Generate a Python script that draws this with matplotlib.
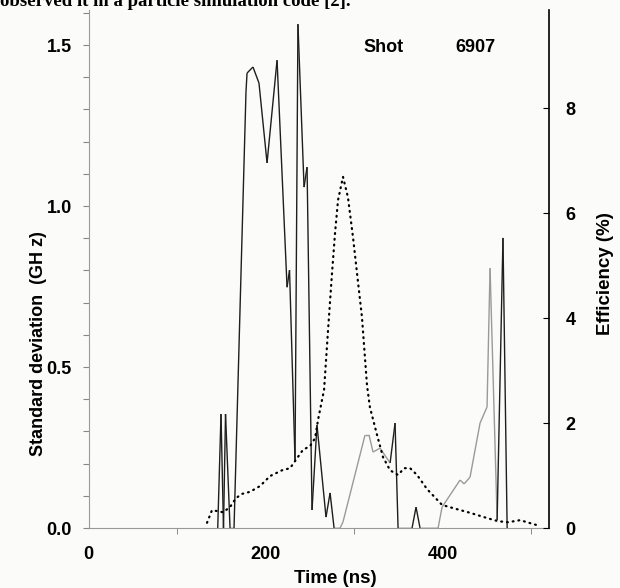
import matplotlib
matplotlib.use("Agg")
import matplotlib.pyplot as plt
from matplotlib.ticker import MultipleLocator
from matplotlib.collections import LineCollection

plt.rcParams['font.family'] = ['Liberation Sans', 'DejaVu Sans']
plt.rcParams['font.weight'] = 'bold'
plt.rcParams['axes.labelweight'] = 'bold'

# ecart type de la frequence (GHz) en fonction du temps (ns)
std_time = [145.8, 149.5, 152.3, 154.6, 159.7, 164.2, 177.7, 178.9, 185.6, 192.4,
            201.5, 212.8, 224.1, 226.9, 233.1, 236.4, 243.3, 246.7, 252.3, 257.9,
            268.1, 272.7, 277.2, 284.0, 287.3, 312.2, 316.7, 321.2, 329.2, 340.5,
            346.1, 349.5, 365.3, 369.8, 374.3, 394.7, 399.2, 419.5, 424.1, 430.8,
            442.1, 450.0, 453.4, 461.4, 468.0, 472.7]
std_ghz = [0, 0.354, 0, 0.354, 0, 0, 1.354, 1.413, 1.432, 1.382,
           1.134, 1.453, 0.748, 0.801, 0.211, 1.565, 1.059, 1.121, 0.056, 0.320,
           0.034, 0.109, 0, 0, 0.019, 0.289, 0.289, 0.236, 0.248, 0.202,
           0.326, 0, 0, 0.065, 0, 0, 0.065, 0.149, 0.137, 0.158,
           0.326, 0.376, 0.807, 0.025, 0.901, 0]

# efficacite (%) en fonction du temps (ns)
eff_time = [133.7, 139.3, 146.1, 151.8, 159.7, 166.4, 173.2, 182.3, 193.6, 204.9,
            218.4, 227.5, 235.4, 242.1, 250.0, 255.7, 259.1, 263.6, 265.9, 270.4,
            274.9, 278.3, 281.7, 287.3, 292.9, 298.6, 303.1, 308.7, 314.4, 317.7,
            325.8, 332.5, 340.5, 349.5, 356.3, 363.1, 371.0, 382.3, 399.2, 411.6,
            430.8, 450.0, 462.5, 473.8, 487.4, 495.3, 505.4]
eff_pct = [0.10, 0.34, 0.32, 0.30, 0.40, 0.57, 0.65, 0.69, 0.80, 0.99,
           1.10, 1.14, 1.33, 1.49, 1.56, 1.71, 2.06, 2.44, 2.63, 3.77,
           4.86, 5.62, 6.25, 6.69, 6.30, 5.54, 4.86, 4.02, 2.72, 2.30,
           1.77, 1.35, 1.10, 1.01, 1.14, 1.14, 1.01, 0.74, 0.44, 0.38,
           0.29, 0.19, 0.13, 0.11, 0.15, 0.11, 0.06]

# parties de la courbe mal imprimees (plus pales sur le scan)
faded = [(284.0, 340.5), (394.7, 461.4)]

fig = plt.figure(figsize=(6.2, 5.88), dpi=100, facecolor='#fbfbfa')
ax = fig.add_axes([0.143, 0.102, 0.7425, 0.881])
ax.set_facecolor('none')
ax2 = ax.twinx()

ax2.plot(eff_time, eff_pct, color='black', linestyle=(0, (0.4, 2.2)), lw=1.6,
         dash_capstyle='round')

segs = []
cols = []
for i in range(len(std_time) - 1):
    t0, t1 = std_time[i], std_time[i + 1]
    segs.append([(t0, std_ghz[i]), (t1, std_ghz[i + 1])])
    pale = any(a <= t0 and t1 <= b for a, b in faded)
    cols.append('#9a9a9a' if pale else '#1e1e1e')
ax.add_collection(LineCollection(segs, colors=cols, linewidths=1.0))

ax.set_xlim(0, 520)
ax.set_ylim(0, 1.609)
ax2.set_ylim(0, 9.87)

ax.set_yticks([0, 0.5, 1.0, 1.5])
ax.set_yticklabels(['0.0', '0.5', '1.0', '1.5'])
ax.yaxis.set_minor_locator(MultipleLocator(0.1))
ax.tick_params(axis='y', which='both', direction='out', color='#888888',
               length=4, width=0.8, labelsize=13, pad=8)
ax.set_xticks([0, 200, 400])
ax.set_xticks([100, 300, 500], minor=True)
ax.tick_params(axis='x', which='major', length=0, pad=13, labelsize=13)
ax.tick_params(axis='x', which='minor', length=4, direction='out', color='#777777')

ax2.set_yticks([0, 2, 4, 6, 8])
ax2.tick_params(axis='y', direction='in', length=4, width=0.8, pad=12, labelsize=13)

for s in ['top', 'right']:
    ax.spines[s].set_visible(False)
ax.spines['left'].set_color('#999999')
ax.spines['left'].set_linewidth(0.8)
ax.spines['bottom'].set_color('#999999')
ax.spines['bottom'].set_linewidth(0.8)
for s in ['top', 'left', 'bottom']:
    ax2.spines[s].set_visible(False)
ax2.spines['right'].set_linewidth(1.2)

ax.set_ylabel('Standard deviation  (GH z)', fontsize=13, va='center')
ax.yaxis.set_label_coords(-0.110, 0.357)
ax2.set_ylabel('Efficiency (%)', fontsize=13.5, va='center', rotation=90)
ax2.yaxis.set_label_coords(1.122, 0.492)
ax.set_xlabel('Time (ns)', fontsize=13.5, va='center')
ax.xaxis.set_label_coords(0.535, -0.0965)

ax.text(332.5, 1.494, 'Shot', fontsize=13, ha='center', va='center')
ax.text(436.5, 1.494, '6907', fontsize=13, ha='center', va='center')

# ligne de texte du document, coupee en haut du scan
fig.text(0.0, 1 - 6 / 588, 'observed it in a particle simulation code [2].',
         family='Liberation Serif', fontsize=13.5, ha='left', va='baseline')

fig.savefig('out.png', dpi=100, facecolor=fig.get_facecolor())
